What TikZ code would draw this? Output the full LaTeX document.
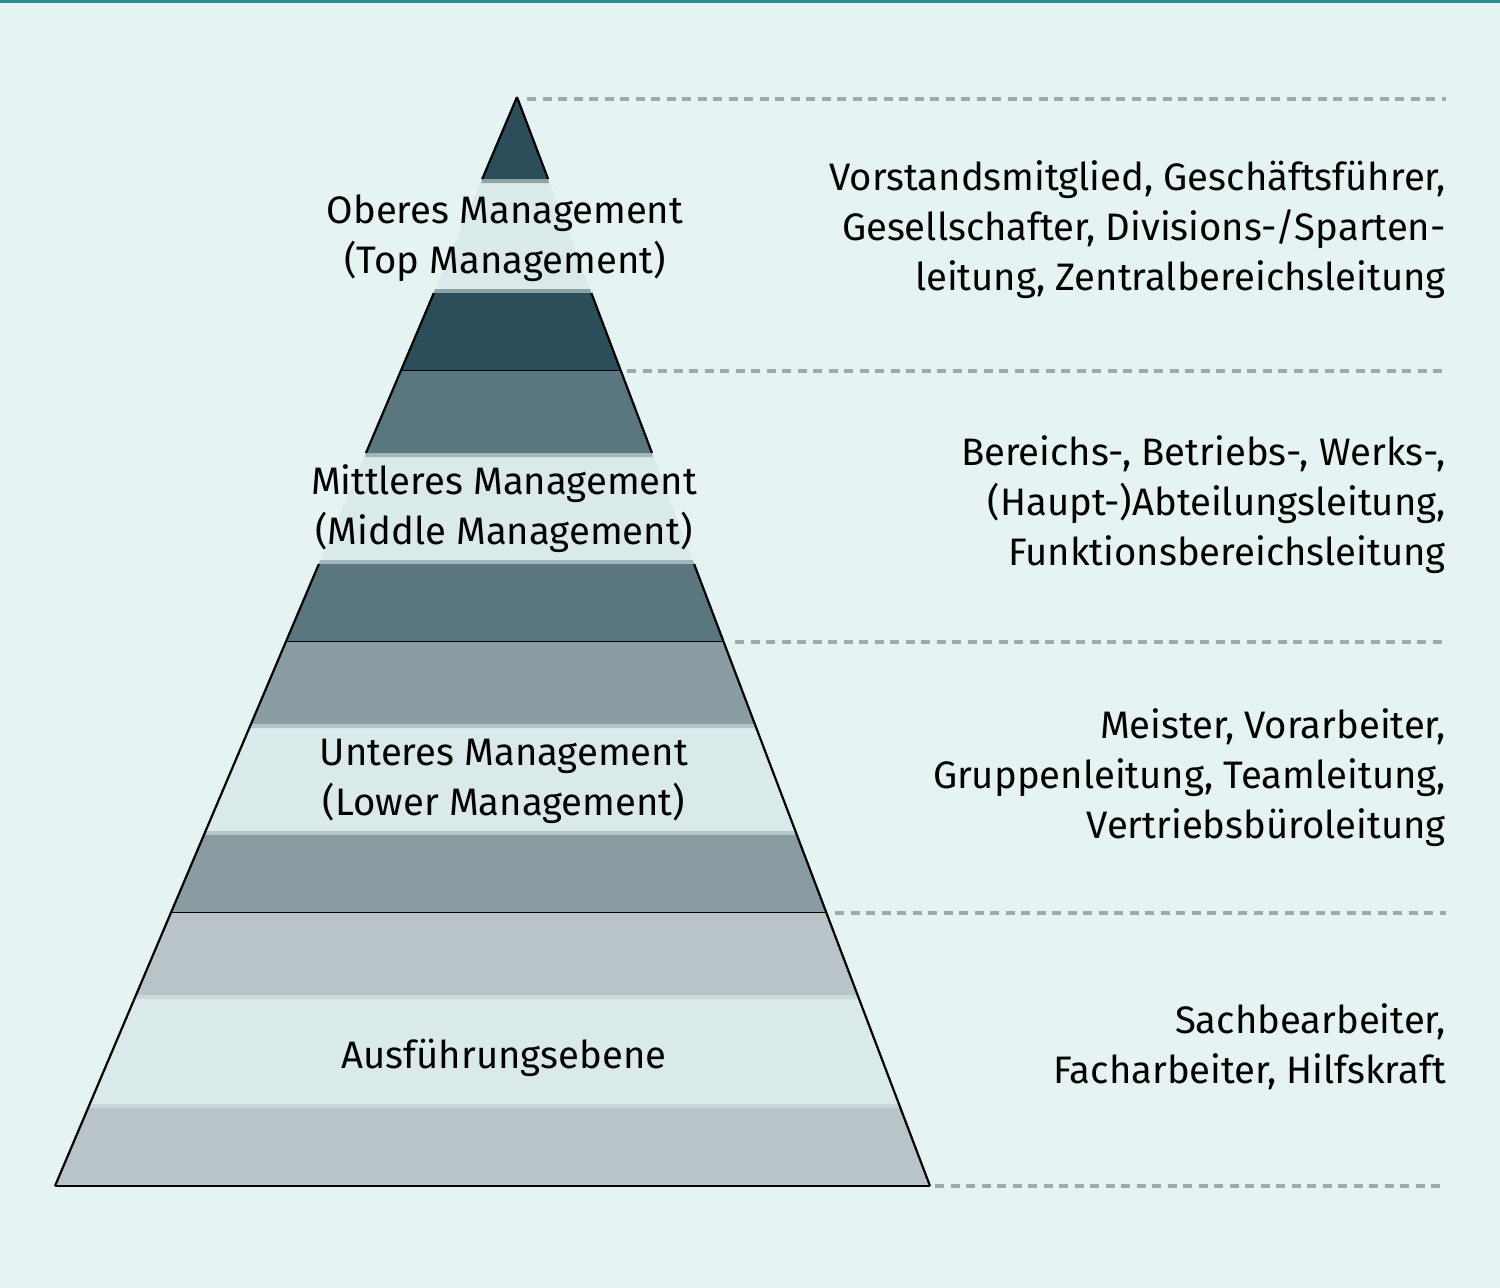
\documentclass[tikz,border=0pt]{standalone}
\usepackage{fontspec}
\setmainfont{Fira Sans}
\definecolor{bgcol}{HTML}{E5F3F3}
\definecolor{topline}{HTML}{2B8A8A}
\definecolor{lvlA}{HTML}{2B4E5A}
\definecolor{lvlB}{HTML}{5A7780}
\definecolor{lvlC}{HTML}{889CA2}
\definecolor{lvlD}{HTML}{B8C4C8}
\definecolor{bandcol}{HTML}{DAE9E9}
\definecolor{dashcol}{HTML}{9BABAE}
\tikzset{
  guide/.style={dashcol,line width=3.5pt,dash pattern=on 9pt off 6.5pt},
  outline/.style={black,line width=2.2pt},
  lvllabel/.style={align=center,inner sep=0pt,font=\fontsize{38.3}{50}\selectfont},
  duties/.style={align=right,anchor=east,inner sep=0pt,font=\fontsize{38.3}{50}\selectfont}
}
\begin{document}
\begin{tikzpicture}[x=1pt,y=-1pt]
\useasboundingbox (0,0) rectangle (1500,1288);
\fill[bgcol] (0,0) rectangle (1500,1288);
\fill[topline] (0,0) rectangle (1500,2.5);
% levels: top, bottom, colour, outline through the light band
\foreach \ya/\yb/\col/\lit in {97/371/lvlA/0,371/642/lvlB/0,642/913/lvlC/1,913/1186/lvlD/1}{
  \pgfmathsetmacro{\yc}{\ya+82}
  \pgfmathsetmacro{\yd}{\yb-78}
  \pgfmathsetmacro{\la}{517-(\ya-97)*0.42424}
  \pgfmathsetmacro{\ra}{517+(\ya-97)*0.37925}
  \pgfmathsetmacro{\lc}{517-(\yc-97)*0.42424}
  \pgfmathsetmacro{\rc}{517+(\yc-97)*0.37925}
  \pgfmathsetmacro{\ld}{517-(\yd-97)*0.42424}
  \pgfmathsetmacro{\rd}{517+(\yd-97)*0.37925}
  \pgfmathsetmacro{\lb}{517-(\yb-97)*0.42424}
  \pgfmathsetmacro{\rb}{517+(\yb-97)*0.37925}
  \fill[\col] (\la,\ya) -- (\ra,\ya) -- (\rc,\yc) -- (\lc,\yc) -- cycle;
  \fill[bandcol] (\lc,\yc) -- (\rc,\yc) -- (\rd,\yd) -- (\ld,\yd) -- cycle;
  \fill[\col!45!bandcol] (\lc,\yc) -- (\rc,\yc) -- (\rc+1,\yc+4) -- (\lc-1,\yc+4) -- cycle;
  \fill[\col!45!bandcol] (\ld,\yd) -- (\rd,\yd) -- (\rd-1,\yd-4) -- (\ld+1,\yd-4) -- cycle;
  \fill[\col] (\ld,\yd) -- (\rd,\yd) -- (\rb,\yb) -- (\lb,\yb) -- cycle;
  \ifnum\lit=1
    \draw[outline] (\la,\ya) -- (\lb,\yb) (\ra,\ya) -- (\rb,\yb);
  \else
    \draw[outline] (\la,\ya) -- (\lc,\yc) (\ra,\ya) -- (\rc,\yc) (\ld,\yd) -- (\lb,\yb) (\rd,\yd) -- (\rb,\yb);
  \fi
  \draw[outline] (\lb,\yb) -- (\rb,\yb);
}
% guide lines
\coordinate (g0) at (527,99);
\coordinate (g1) at (627,371);
\coordinate (g2) at (735,642);
\coordinate (g3) at (835,913);
\coordinate (g4) at (935,1186);
\foreach \g in {0,...,4}{
  \draw[guide] (g\g) -- (1446,0 |- g\g);
}
% level names
\node[lvllabel] (top) at (505,238) {Oberes Management\\(Top Management)};
\node[lvllabel] (middle) at (504,509) {Mittleres Management\\(Middle Management)};
\node[lvllabel] (lower) at (504,781) {Unteres Management\\(Lower Management)};
\node[lvllabel] (base) at (504,1058) {Ausführungsebene};
% positions per level
\node[duties] (topjobs) at (1446,230) {Vorstandsmitglied, Geschäftsführer,\\Gesellschafter, Divisions-/Sparten-\\leitung, Zentralbereichsleitung};
\node[duties] (middlejobs) at (1446,505) {Bereichs-, Betriebs-, Werks-,\\(Haupt-)Abteilungsleitung,\\Funktionsbereichsleitung};
\node[duties] (lowerjobs) at (1446,778) {Meister, Vorarbeiter,\\Gruppenleitung, Teamleitung,\\Vertriebsbüroleitung};
\node[duties] (basejobs) at (1446,1047) {Sachbearbeiter,\\Facharbeiter, Hilfskraft};
\end{tikzpicture}
\end{document}
